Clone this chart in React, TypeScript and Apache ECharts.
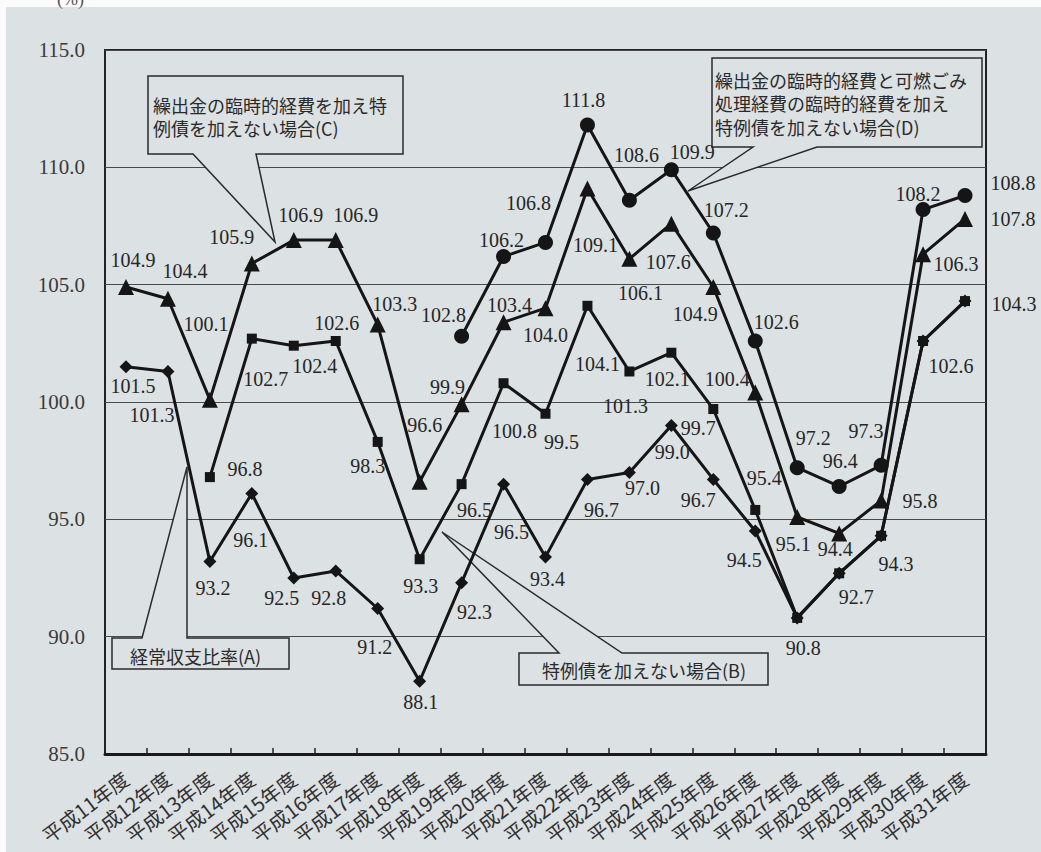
import React, { useEffect, useRef } from "react";
import * as echarts from "echarts";

const categories = [
  "平成11年度", "平成12年度", "平成13年度", "平成14年度", "平成15年度", "平成16年度", "平成17年度",
  "平成18年度", "平成19年度", "平成20年度", "平成21年度", "平成22年度", "平成23年度", "平成24年度",
  "平成25年度", "平成26年度", "平成27年度", "平成28年度", "平成29年度", "平成30年度", "平成31年度",
];

// (A) 経常収支比率
const seriesA = [101.5, 101.3, 93.2, 96.1, 92.5, 92.8, 91.2, 88.1, 92.3, 96.5, 93.4, 96.7, 97.0, 99.0, 96.7, 94.5, 90.8, 92.7, 94.3, 102.6, 104.3];
// (B) 特例債を加えない場合
const seriesB = [null, null, 96.8, 102.7, 102.4, 102.6, 98.3, 93.3, 96.5, 100.8, 99.5, 104.1, 101.3, 102.1, 99.7, 95.4, 90.8, 92.7, 94.3, 102.6, 104.3];
// (C) 繰出金の臨時的経費を加え特例債を加えない場合
const seriesC = [104.9, 104.4, 100.1, 105.9, 106.9, 106.9, 103.3, 96.6, 99.9, 103.4, 104.0, 109.1, 106.1, 107.6, 104.9, 100.4, 95.1, 94.4, 95.8, 106.3, 107.8];
// (D) 繰出金の臨時的経費と可燃ごみ処理経費の臨時的経費を加え特例債を加えない場合
const seriesD = [null, null, null, null, null, null, null, null, 102.8, 106.2, 106.8, 111.8, 108.6, 109.9, 107.2, 102.6, 97.2, 96.4, 97.3, 108.2, 108.8];

const yTicks = [85, 90, 95, 100, 105, 110, 115];

// label placement (offset of label centre from the marker)
const labelOffA = [[7, 19], [-16, 44], [3, 26], [-1, 46], [-12, 20], [-7, 27], [-3, 38], [1, 21], [13, 29], [8, 48], [2, 22], [14, 31], [13, 16], [1, 27], [-15, 21], [-11, 29], [6, 30], [17, 24], [15, 28], [28, 25], [49, 3]];
const labelOffB = [null, null, [35, -8], [14, 40], [21, 20], [1, -18], [-10, 24], [1, 27], [13, 26], [11, 48], [16, 28], [10, 58], [-4, 35], [-4, 26], [-15, 19], [9, -32], null, null, null, null, null];
const labelOffC = [[7, -27], [17, -28], [-4, -76], [-20, -27], [7, -25], [20, -25], [17, -21], [5, -57], [-14, -17], [6, -17], [0, 27], [8, 57], [11, 34], [-3, 38], [-18, 27], [-28, -14], [-4, 27], [-4, 16], [39, 0], [33, 10], [48, 0]];
const labelOffD = [null, null, null, null, null, null, null, null, [-18, -21], [-2, -17], [-17, -39], [-4, -25], [7, -45], [21, -18], [13, -23], [21, -19], [16, -30], [1, -25], [-15, -34], [-5, -16], [48, -12]];

const BG = "#dce1e4";
const INK = "#151515";
const SERIF = "'Liberation Serif', 'DejaVu Serif', serif";
const JP = "'Noto Sans CJK JP', 'Noto Sans', sans-serif";

function build(values: (number | null)[], offs: (number[] | null)[]) {
  return values.map((v, i) =>
    v == null
      ? "-"
      : { value: v, label: offs[i] ? { show: true, offset: offs[i] } : { show: false } }
  );
}

function lineSeries(name: string, values: (number | null)[], offs: (number[] | null)[], symbol: string, size: number) {
  return {
    name,
    type: "line",
    data: build(values, offs),
    symbol,
    symbolSize: size,
    showAllSymbol: true,
    connectNulls: false,
    lineStyle: { color: INK, width: 3 },
    itemStyle: { color: INK },
    z: 3,
    label: {
      show: true,
      position: "inside",
      formatter: (p: any) => Number(p.value).toFixed(1),
      fontFamily: SERIF,
      fontSize: 20,
      color: "#262626",
    },
  };
}

function callout(points: number[][]) {
  return {
    type: "polygon",
    z: 1,
    shape: { points },
    style: { fill: BG, stroke: "#2a2a2a", lineWidth: 1.5 },
  };
}

function note(text: string, x: number, y: number) {
  return {
    type: "text",
    z: 5,
    x,
    y,
    style: {
      text,
      fill: "#2a2a2a",
      font: `18px ${JP}`,
      lineHeight: 23.5,
      verticalAlign: "top",
    },
  };
}

export default function App() {
  const ref = useRef<HTMLDivElement>(null);
  useEffect(() => {
    const chart = echarts.init(ref.current!, null, { renderer: "svg" });
    chart.setOption({
      animation: false,
      backgroundColor: BG,
      grid: {
        left: 105,
        right: 55,
        top: 50,
        bottom: 98,
        show: true,
        borderColor: "#222",
        borderWidth: 2,
        backgroundColor: "transparent",
      },
      xAxis: {
        type: "category",
        data: categories,
        boundaryGap: true,
        axisLine: { lineStyle: { color: "#1a1a1a", width: 3 } },
        axisTick: { show: true, inside: true, length: 6, lineStyle: { color: "#222", width: 1.5 } },
        axisLabel: {
          interval: 0,
          rotate: 37,
          margin: 22,
          fontFamily: JP,
          fontSize: 20,
          color: "#303030",
        },
      },
      yAxis: {
        type: "value",
        min: yTicks[0],
        max: yTicks[yTicks.length - 1],
        interval: 5,
        axisLine: { show: false },
        axisTick: { show: false },
        axisLabel: {
          formatter: (v: number) => v.toFixed(1),
          fontFamily: SERIF,
          fontSize: 21,
          color: "#3a3a3a",
          margin: 20,
        },
        splitLine: { lineStyle: { color: "#4a4a4a", width: 1 } },
      },
      series: [
        lineSeries("経常収支比率(A)", seriesA, labelOffA, "diamond", 13),
        lineSeries("特例債を加えない場合(B)", seriesB, labelOffB, "rect", 10),
        lineSeries("繰出金の臨時的経費を加え特例債を加えない場合(C)", seriesC, labelOffC, "triangle", 16),
        lineSeries("繰出金の臨時的経費と可燃ごみ処理経費の臨時的経費を加え特例債を加えない場合(D)", seriesD, labelOffD, "circle", 15),
      ],
      graphic: [
        callout([[148, 76], [403, 76], [403, 154], [256, 154], [275, 242], [193, 154], [148, 154]]),
        note("繰出金の臨時的経費を加え特\n例債を加えない場合(C)", 153, 93),
        callout([[712, 58], [982, 58], [982, 147], [817, 147], [688, 191], [753, 147], [712, 147]]),
        note("繰出金の臨時的経費と可燃ごみ\n処理経費の臨時的経費を加え\n特例債を加えない場合(D)", 715, 68),
        callout([[112, 638], [142, 638], [187, 467], [187, 638], [289, 638], [289, 669], [112, 669]]),
        note("経常収支比率(A)", 130, 644),
        callout([[519, 653], [559, 653], [442, 532], [622, 653], [768, 653], [768, 685], [519, 685]]),
        note("特例債を加えない場合(B)", 542, 658),
        { type: "rect", z: 10, shape: { x: 0, y: 0, width: 1041, height: 7 }, style: { fill: "#fbfbfb" } },
        { type: "rect", z: 10, shape: { x: 0, y: 0, width: 6, height: 852 }, style: { fill: "#fbfbfb" } },
        { type: "text", z: 11, x: 57, y: -10, style: { text: "(%)", fill: "#555", font: `18px ${SERIF}` } },
      ],
    });
    return () => chart.dispose();
  }, []);
  return (
    <div
      ref={ref}
      style={{ position: "absolute", left: 0, top: 0, width: 1041, height: 852 }}
    />
  );
}
